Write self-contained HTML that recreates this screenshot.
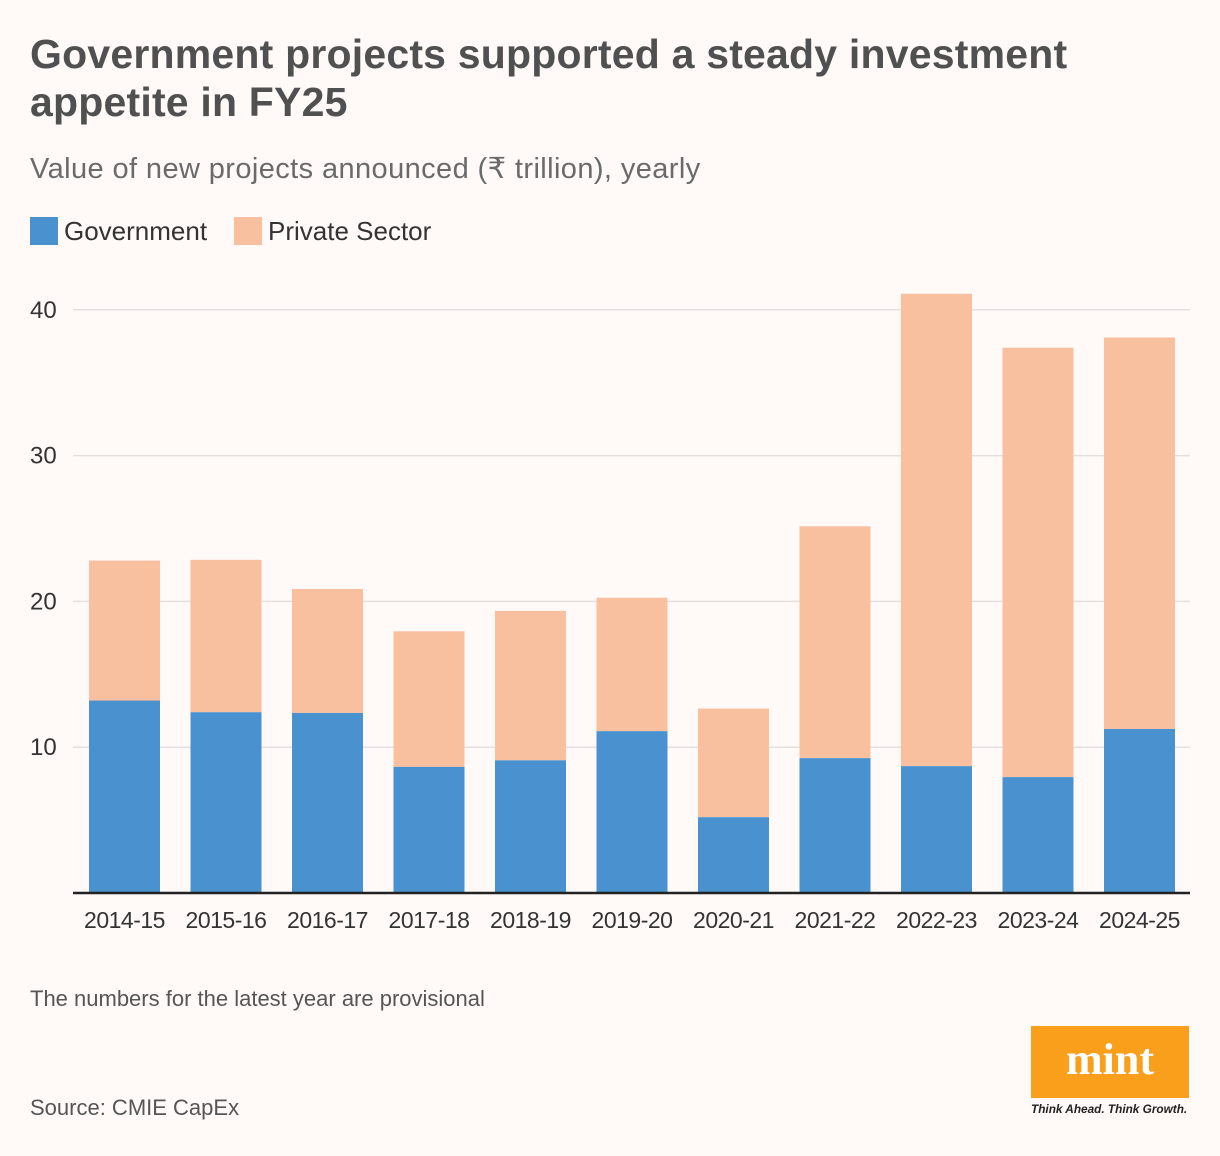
<!DOCTYPE html>
<html><head><meta charset="utf-8"><style>
body{margin:0;background:#fff9f8;}
#wrap{position:relative;width:1220px;height:1156px;background:#fff9f8;font-family:"Liberation Sans",sans-serif;color:#333;overflow:hidden}
.t{position:absolute;white-space:nowrap}
</style></head><body>
<div id="wrap">
<div class="t" style="left:30px;top:30px;font-size:41px;font-weight:bold;color:#505050;line-height:48px;letter-spacing:0.2px">Government projects supported a steady investment<br>appetite in FY25</div>
<div class="t" style="left:30px;top:151px;font-size:29px;color:#6a6a6a;letter-spacing:0.4px">Value of new projects announced (₹ trillion), yearly</div>
<div class="t" style="left:30px;top:216px;font-size:26px;color:#333"><span style="display:inline-block;width:28px;height:28px;background:#4a92cf;vertical-align:-5px;margin-right:6px"></span>Government</div>
<div class="t" style="left:234px;top:216px;font-size:26px;color:#333"><span style="display:inline-block;width:28px;height:28px;background:#f9c0a0;vertical-align:-5px;margin-right:6px"></span>Private Sector</div>
<svg id="chart" width="1220" height="960" style="position:absolute;left:0;top:0"></svg>
<div class="t" style="left:30px;top:986px;font-size:22px;color:#555">The numbers for the latest year are provisional</div>
<div class="t" style="left:30px;top:1095px;font-size:22px;color:#555">Source: CMIE CapEx</div>
<div style="position:absolute;left:1031px;top:1026px;width:158px;height:72px;background:#f99f1b;color:#fff;font-family:'Liberation Serif',serif;font-weight:bold;font-size:44px;text-align:center;line-height:68px">mint</div>
<div class="t" style="left:1031px;top:1102px;font-size:11.8px;font-style:italic;color:#222;font-weight:bold">Think Ahead. Think Growth.</div>
</div>
<script>
const categories=["2014-15","2015-16","2016-17","2017-18","2018-19","2019-20","2020-21","2021-22","2022-23","2023-24","2024-25"];
const government=[13.2,12.4,12.35,8.65,9.1,11.1,5.2,9.25,8.7,7.95,11.25];
const totals=[22.8,22.85,20.85,17.95,19.35,20.25,12.65,25.15,41.1,37.4,38.1];
const yTicks=[10,20,30,40];
const NS="http://www.w3.org/2000/svg";
const svg=document.getElementById('chart');
const y0=893,pxPerUnit=14.58,x0=124.5,step=101.5,bw=71;
const y=v=>y0-v*pxPerUnit;
const x=i=>x0+i*step;
function mk(tag,attrs,txt){const e=document.createElementNS(NS,tag);for(const k in attrs)e.setAttribute(k,attrs[k]);if(txt!==undefined)e.textContent=txt;svg.appendChild(e);return e;}
yTicks.forEach(t=>{
 const g=mk('line',{x1:73,x2:1190,y1:y(t),y2:y(t),stroke:'#e4e0df','stroke-width':1.5});
 
 
 const l=mk('text',{x:30,y:y(t)+8,'font-size':24,fill:'#333','font-family':'Liberation Sans, sans-serif'},t);
 
 
});
categories.forEach((c,i)=>{
 const p=totals[i]-government[i];
 const rp=mk('rect',{x:x(i)-bw/2,y:y(totals[i]),width:bw,height:p*pxPerUnit,fill:'#f9c0a0'});
 
 
 const rg=mk('rect',{x:x(i)-bw/2,y:y(government[i]),width:bw,height:government[i]*pxPerUnit,fill:'#4a92cf'});
 
 
 const tl=mk('text',{x:x(i),y:928,'font-size':23,fill:'#333','text-anchor':'middle','font-family':'Liberation Sans, sans-serif','letter-spacing':'-0.5'},c);
 
 
});
const ax=mk('line',{x1:73,x2:1190,y1:y0,y2:y0,stroke:'#222','stroke-width':2.5});


</script>
</body></html>
